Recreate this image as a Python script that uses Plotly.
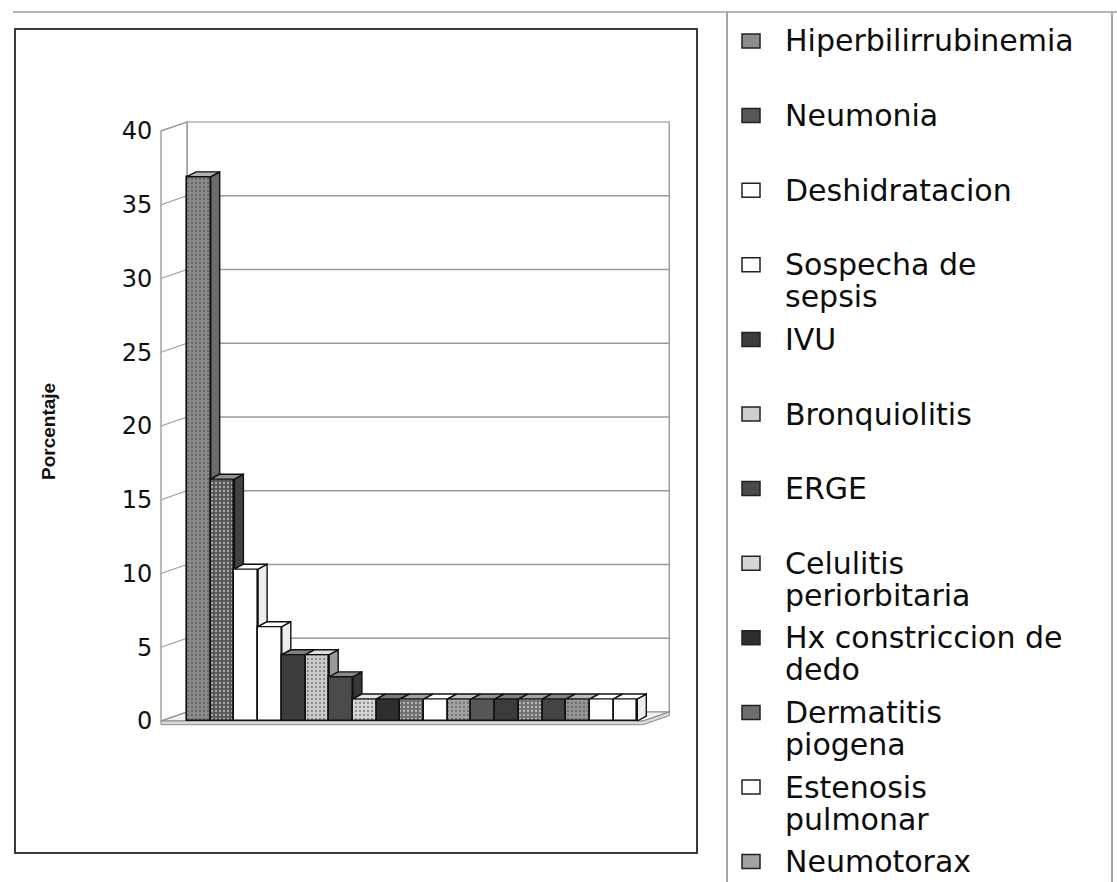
import plotly.graph_objects as go

# ---------------------------------------------------------------------------
# Data
# ---------------------------------------------------------------------------
# Percentage of cases per diagnosis, in the order the columns are drawn
porcentajes = [36.9, 16.4, 10.3, 6.4, 4.5, 4.5, 3.0,
               1.5, 1.5, 1.5, 1.5, 1.5, 1.5, 1.5, 1.5, 1.5, 1.5, 1.5, 1.5]

# Diagnoses listed in the legend ("\n" marks where a long name wraps);
# the legend runs past the bottom edge of the page
diagnosticos = ["Hiperbilirrubinemia", "Neumonia", "Deshidratacion",
                "Sospecha de\nsepsis", "IVU", "Bronquiolitis", "ERGE",
                "Celulitis\nperiorbitaria", "Hx constriccion de\ndedo",
                "Dermatitis\npiogena", "Estenosis\npulmonar", "Neumotorax"]

y_ticks = [0, 5, 10, 15, 20, 25, 30, 35, 40]
y_titulo = "Porcentaje"

# ---------------------------------------------------------------------------
# Styling
# ---------------------------------------------------------------------------
relleno = ["#8c8c8c", "#575757", "#ffffff", "#ffffff", "#3d3d3d", "#cdcdcd",
           "#4a4a4a", "#d6d6d6", "#2e2e2e", "#6f6f6f", "#ffffff", "#a3a3a3",
           "#565656", "#3b3b3b", "#727272", "#444444", "#959595", "#ffffff",
           "#ffffff"]
textura = [True, True, False, False, False, True, False, True, False, True,
           False, True, False, False, True, False, True, False, False]

W, H = 1117, 882
FONT = "DejaVu Sans"

# pixel geometry of the 3-D box
X0, UX = 187.0, 23.7      # left edge of first column (px), px per column slot
Y0, UY = 721.0, 14.75     # zero line of the front plane (px), px per percent
DXW, DYW = 26.0 / UX, 9.0 / UY      # depth of the floor / walls (data units)
DXB, DYB = 0.38, 0.33               # depth of each column (data units)

PLOT_L, PLOT_R, PLOT_T, PLOT_B = 150.0, 697.0, 29.0, 853.0


def px_x(p):
    return p / W


def px_y(p):
    return 1.0 - p / H


def mezcla(hexc, k, hacia=0):
    """Blend a colour toward black (hacia=0) or white (hacia=255)."""
    h = hexc.lstrip("#")
    rgb = [int(h[i:i + 2], 16) for i in (0, 2, 4)]
    out = [round(c + (hacia - c) * k) for c in rgb]
    return "#%02x%02x%02x" % tuple(out)


n = len(porcentajes)
y_max = y_ticks[-1]
x_fin = n + 0.25                    # right end of the floor's front edge

fig = go.Figure()

# front faces of the columns
fig.add_trace(go.Bar(
    x=[i + 0.5 for i in range(n)],
    y=porcentajes,
    width=1.0,
    marker=dict(
        color=relleno,
        line=dict(color="#111111", width=1.6),
        pattern=dict(
            shape=["." if t else "" for t in textura],
            fgcolor=[mezcla(c, 0.3) for c in relleno],
            bgcolor=relleno,
            size=4, solidity=0.25, fillmode="overlay",
        ),
    ),
    hoverinfo="skip",
    showlegend=False,
))

# side and top faces of every column
for i, v in enumerate(porcentajes):
    sig = porcentajes[i + 1] if i + 1 < n else 0.0
    c = relleno[i]
    lado = mezcla(c, 0.07 if c == "#ffffff" else 0.25)
    tapa = mezcla(c, 0.35, 255)
    if sig < v:
        fig.add_trace(go.Scatter(
            x=[i + 1, i + 1 + DXB, i + 1 + DXB, i + 1, i + 1],
            y=[sig, sig + DYB, v + DYB, v, sig],
            mode="lines", fill="toself", fillcolor=lado,
            line=dict(color="#111111", width=1.4),
            hoverinfo="skip", showlegend=False))
    fig.add_trace(go.Scatter(
        x=[i, i + DXB, i + 1 + DXB, i + 1, i],
        y=[v, v + DYB, v + DYB, v, v],
        mode="lines", fill="toself", fillcolor=tapa,
        line=dict(color="#111111", width=1.4),
        hoverinfo="skip", showlegend=False))

shapes = []
gris = "#8a8a8a"

# back wall
shapes.append(dict(type="rect", xref="x", yref="y", layer="below",
                   x0=0, x1=x_fin + DXW, y0=DYW, y1=y_max + DYW,
                   line=dict(color=gris, width=1.2), fillcolor="white"))
# left wall
shapes.append(dict(type="path", xref="x", yref="y", layer="below",
                   path=f"M {-DXW},0 L 0,{DYW} L 0,{y_max + DYW} L {-DXW},{y_max} Z",
                   line=dict(color=gris, width=1.2), fillcolor="white"))
# floor and its front edge
shapes.append(dict(type="path", xref="x", yref="y", layer="below",
                   path=(f"M {-DXW},0 L 0,{DYW} L {x_fin + DXW},{DYW} "
                         f"L {x_fin},0 Z"),
                   line=dict(color=gris, width=1.2), fillcolor="#f2f2f2"))
shapes.append(dict(type="path", xref="x", yref="y", layer="below",
                   path=(f"M {-DXW},0 L {x_fin},0 L {x_fin + DXW},{DYW} "
                         f"L {x_fin + DXW},{DYW - 0.25} L {x_fin},-0.25 "
                         f"L {-DXW},-0.25 Z"),
                   line=dict(color=gris, width=1), fillcolor="#d9d9d9"))

# gridlines on the back wall and tick slants on the left wall
for t in y_ticks:
    if 0 < t < y_max:
        shapes.append(dict(type="line", xref="x", yref="y", layer="below",
                           x0=0, x1=x_fin + DXW, y0=t + DYW, y1=t + DYW,
                           line=dict(color="#9a9a9a", width=1.3)))
    shapes.append(dict(type="line", xref="x", yref="y", layer="below",
                       x0=-DXW, x1=0, y0=t, y1=t + DYW,
                       line=dict(color="#9a9a9a", width=1.2)))

# chart frame
shapes.append(dict(type="rect", xref="paper", yref="paper",
                   x0=px_x(15), x1=px_x(697), y0=px_y(853), y1=px_y(29),
                   line=dict(color="#3a3a3a", width=2)))
# page rule along the top and legend box borders
shapes.append(dict(type="line", xref="paper", yref="paper",
                   x0=px_x(13), x1=1, y0=px_y(12), y1=px_y(12),
                   line=dict(color="#9c9c9c", width=1.5)))
for xb in (727, 1112):
    shapes.append(dict(type="line", xref="paper", yref="paper",
                       x0=px_x(xb), x1=px_x(xb), y0=px_y(12), y1=0,
                       line=dict(color="#a5a5a5", width=2)))

annotations = []

# legend: marker square plus wrapped name per slot
SLOT0, SLOT = 41.0, 74.6
for k, nombre in enumerate(diagnosticos):
    yc = SLOT0 + SLOT * k
    shapes.append(dict(type="rect", xref="paper", yref="paper",
                       x0=px_x(742), x1=px_x(760),
                       y0=px_y(yc + 7), y1=px_y(yc - 7),
                       line=dict(color="#222222", width=1.5),
                       fillcolor=relleno[k]))
    for j, linea in enumerate(nombre.split("\n")):
        annotations.append(dict(
            xref="paper", yref="paper", x=px_x(783), y=px_y(yc + 32 * j),
            xanchor="left", yanchor="middle", showarrow=False, text=linea,
            font=dict(family=FONT, size=30, color="#0d0d0d")))

# axis title
annotations.append(dict(
    xref="paper", yref="paper", x=px_x(48), y=px_y(432),
    xanchor="center", yanchor="middle", showarrow=False,
    text="<b>" + y_titulo + "</b>",
    textangle=-90, font=dict(family="Liberation Sans", size=19, color="#111111")))

fig.update_layout(
    width=W, height=H,
    margin=dict(l=0, r=0, t=0, b=0),
    paper_bgcolor="white", plot_bgcolor="white",
    bargap=0,
    xaxis=dict(domain=[px_x(PLOT_L), px_x(PLOT_R)],
               range=[(PLOT_L - X0) / UX, (PLOT_R - X0) / UX],
               visible=False, fixedrange=True),
    yaxis=dict(domain=[px_y(PLOT_B), px_y(PLOT_T)],
               range=[(Y0 - PLOT_B) / UY, (Y0 - PLOT_T) / UY],
               anchor="free", position=px_x(161),
               tickvals=y_ticks, ticktext=[str(t) for t in y_ticks],
               ticks="outside", ticklen=4, tickcolor="rgba(0,0,0,0)",
               showgrid=False, zeroline=False, showline=False,
               tickfont=dict(family=FONT, size=24, color="#111111"),
               fixedrange=True),
    shapes=shapes,
    annotations=annotations,
    showlegend=False,
)

fig.write_html("out.html")
